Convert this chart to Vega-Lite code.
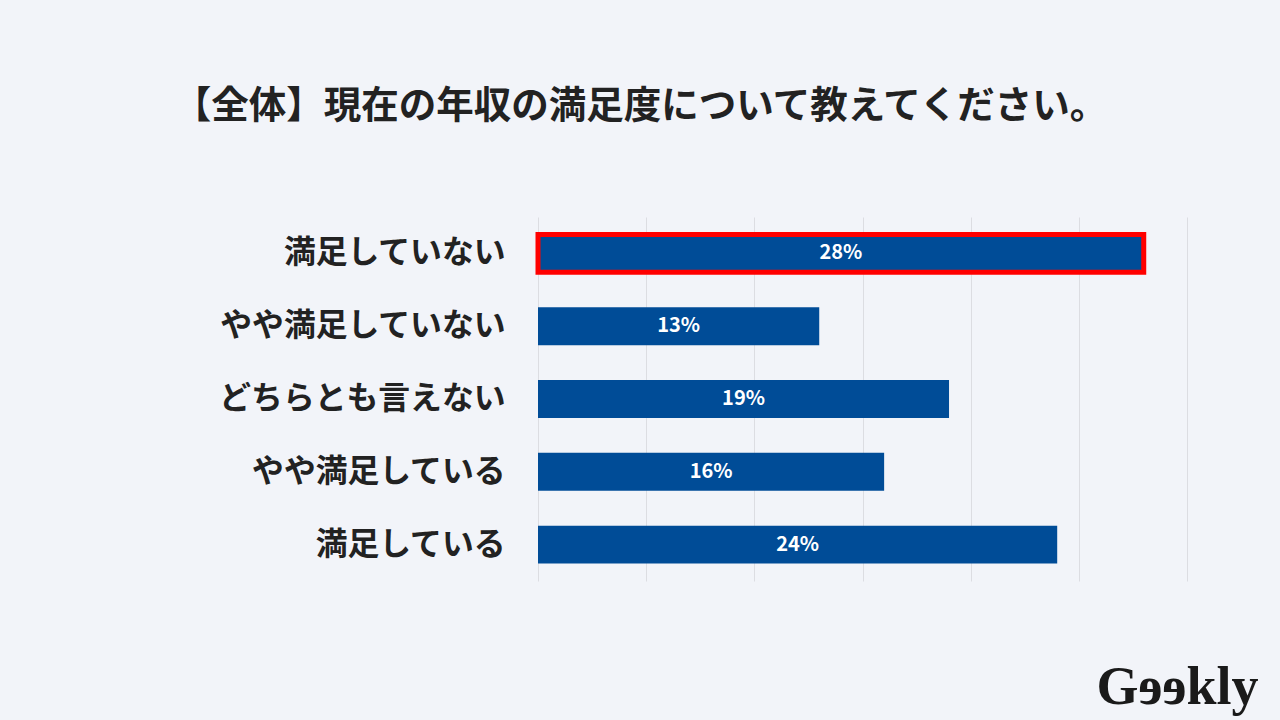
{
  "$schema": "https://vega.github.io/schema/vega-lite/v6.json",
  "width": 649,
  "height": 364,
  "autosize": {"type": "none"},
  "padding": {"left": 538, "top": 217, "right": 93, "bottom": 139},
  "background": "#f2f4f9",
  "view": {"stroke": null},
  "title": {
    "text": "【全体】現在の年収の満足度について教えてください。",
    "font": "Noto Sans CJK JP",
    "fontSize": 37.5,
    "fontWeight": "bold",
    "color": "#222222",
    "anchor": "middle",
    "baseline": "bottom",
    "offset": 54,
    "dx": -222
  },
  "data": {
    "values": [
      {"label": "満足していない", "value": 28, "text": "28%", "highlight": true},
      {"label": "やや満足していない", "value": 13, "text": "13%", "highlight": false},
      {"label": "どちらとも言えない", "value": 19, "text": "19%", "highlight": false},
      {"label": "やや満足している", "value": 16, "text": "16%", "highlight": false},
      {"label": "満足している", "value": 24, "text": "24%", "highlight": false}
    ]
  },
  "encoding": {
    "y": {
      "field": "label",
      "type": "nominal",
      "sort": null,
      "scale": {"paddingInner": 0.48, "paddingOuter": 0.24},
      "axis": {
        "title": null,
        "domain": false,
        "ticks": false,
        "labelFont": "Noto Sans CJK JP",
        "labelFontSize": 31.8,
        "labelFontWeight": "bold",
        "labelColor": "#222222",
        "labelPadding": 33,
        "labelLimit": 500
      }
    }
  },
  "layer": [
    {
      "mark": {"type": "bar", "color": "#004c97"},
      "encoding": {
        "x": {
          "field": "value",
          "type": "quantitative",
          "scale": {"domain": [0, 30]},
          "axis": {
            "values": [0, 5, 10, 15, 20, 25, 30],
            "grid": true,
            "gridColor": "#dcdde2",
            "gridWidth": 1,
            "labels": false,
            "ticks": false,
            "domain": false,
            "title": "Gɘɘkly",
            "titleFont": "Liberation Serif",
            "titleFontSize": 54,
            "titleFontWeight": "bold",
            "titleColor": "#1a1a1a",
            "titleAlign": "right",
            "titleBaseline": "alphabetic",
            "titleX": 720,
            "titleY": 122
          }
        },
        "stroke": {"condition": {"test": "datum.highlight", "value": "#ff0000"}, "value": null},
        "strokeWidth": {"condition": {"test": "datum.highlight", "value": 5}, "value": 0}
      }
    },
    {
      "transform": [{"calculate": "datum.value / 2", "as": "mid"}],
      "mark": {"type": "text", "color": "#ffffff", "font": "Noto Sans CJK JP", "fontSize": 20, "fontWeight": "bold", "align": "center", "baseline": "middle"},
      "encoding": {
        "x": {"field": "mid", "type": "quantitative"},
        "text": {"field": "text"}
      }
    }
  ]
}
